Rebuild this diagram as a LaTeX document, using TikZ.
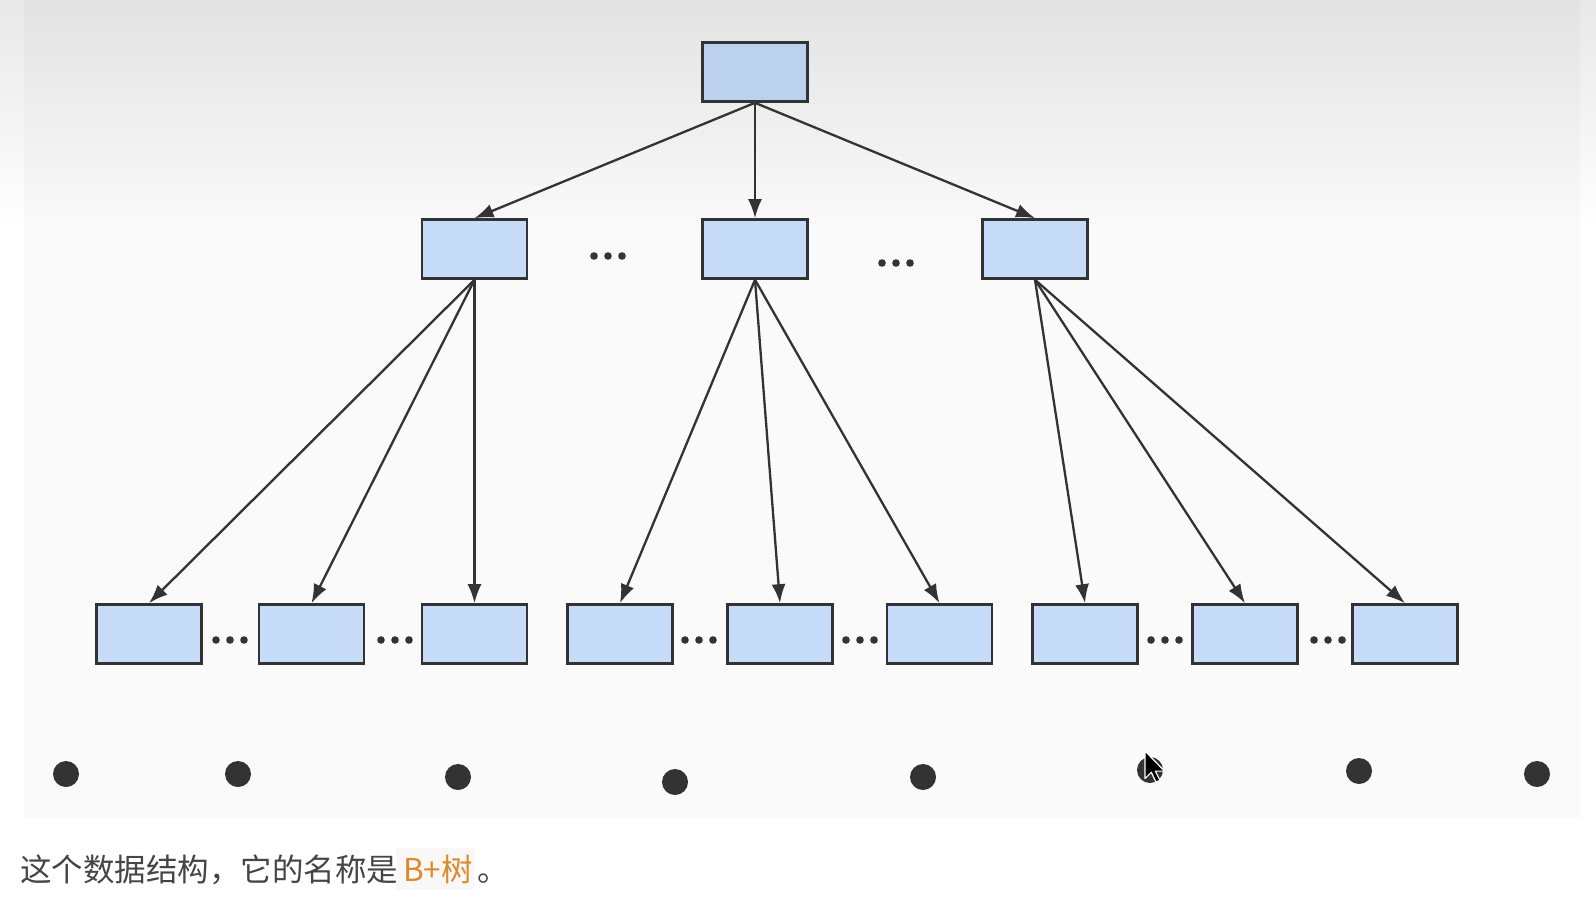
\documentclass[tikz,border=0pt]{standalone}
\usepackage{fontspec}
\newfontfamily\cjk{Noto Sans CJK SC}
\usetikzlibrary{arrows.meta}
\definecolor{boxfill}{HTML}{C6DCF8}
\definecolor{rootfill}{HTML}{BBD1EE}
\definecolor{ink}{HTML}{333333}
\definecolor{captext}{HTML}{454545}
\definecolor{codetext}{HTML}{DC8A30}
\definecolor{codebg}{HTML}{FAF8F6}
\tikzset{
  treebox/.style={rectangle, draw=ink, line width=2.6pt, fill=boxfill,
    minimum width=105pt, minimum height=59pt, inner sep=0pt},
  rootbox/.style={treebox, fill=rootfill},
  link/.style={draw=ink, line width=2.3pt, -{Latex[length=19pt,width=14pt]}},
  bigdot/.style={circle, fill=ink, minimum size=26pt, inner sep=0pt},
  captionfont/.style={font=\cjk\fontsize{31.5}{36}\selectfont, inner sep=0pt}
}
\begin{document}
\begin{tikzpicture}[x=1pt,y=-1pt]
  \useasboundingbox (0,0) rectangle (1596,902);
  % page background and panel
  \fill[white] (0,0) rectangle (1596,902);
  \shade[top color=black!9, bottom color=white] (0,0) rectangle (1596,230);
  \fill[black!2] (24,230) rectangle (1580,818);
  \shade[top color=black!11, bottom color=black!2] (24,0) rectangle (1580,230);

  % root
  \node[rootbox] (r) at (755,72) {};
  % internal level
  \node[treebox] (m1) at (474.5,249) {};
  \node[treebox] (m2) at (755,249) {};
  \node[treebox] (m3) at (1035,249) {};
  % leaf level
  \node[treebox] (l1) at (149,634) {};
  \node[treebox] (l2) at (311.5,634) {};
  \node[treebox] (l3) at (474.5,634) {};
  \node[treebox] (l4) at (620,634) {};
  \node[treebox] (l5) at (780,634) {};
  \node[treebox] (l6) at (939.5,634) {};
  \node[treebox] (l7) at (1085,634) {};
  \node[treebox] (l8) at (1245,634) {};
  \node[treebox] (l9) at (1405,634) {};

  % links
  \foreach \m in {m1,m2,m3} \draw[link] (r.south) -- (\m.north);
  \foreach \l in {l1,l2,l3} \draw[link] (m1.south) -- (\l.north);
  \foreach \l in {l4,l5,l6} \draw[link] (m2.south) -- (\l.north);
  \foreach \l in {l7,l8,l9} \draw[link] (m3.south) -- (\l.north);

  % ellipses between siblings
  \foreach \cx/\cy in {608/256, 896/263, 230/640, 395/640, 699/640, 860/640, 1165/640, 1328/640}
    \foreach \dx in {-14,0,14} \fill[ink] (\cx+\dx,\cy) circle (3.8pt);

  % data points below the leaves
  \node[bigdot] (p1) at (66,774) {};
  \node[bigdot] (p2) at (238,774) {};
  \node[bigdot] (p3) at (458,777) {};
  \node[bigdot] (p4) at (675,782) {};
  \node[bigdot] (p5) at (923,777) {};
  \node[bigdot] (p6) at (1150,770) {};
  \node[bigdot] (p7) at (1359,771) {};
  \node[bigdot] (p8) at (1537,774) {};

  % mouse pointer
  \begin{scope}[shift={(1145,751)}, scale=1.15]
    \filldraw[fill=black, draw=white, line width=1.2pt, line join=round]
      (0,0) -- (0,24) -- (5.5,18.5) -- (9.5,27) -- (13,25.5) -- (9,17.5) -- (17,17.5) -- cycle;
  \end{scope}

  % caption
  \node[captionfont, text=captext, anchor=base west] (cap) at (20,881) {这个数据结构，它的名称是};
  \fill[codebg] (396,848) rectangle (474,890);
  \node[captionfont, text=codetext, anchor=base west] (code) at (403,881) {B+树};
  \node[captionfont, text=captext, anchor=base west] (stop) at (477,881) {。};
\end{tikzpicture}
\end{document}
